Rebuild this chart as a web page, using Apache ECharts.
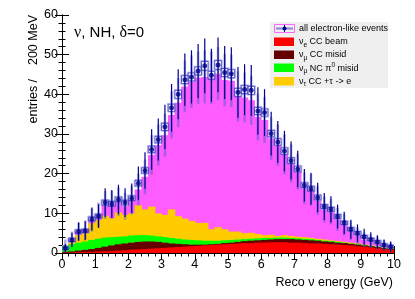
<!DOCTYPE html>
<html><head><meta charset="utf-8">
<script src="https://cdn.jsdelivr.net/npm/echarts@6/dist/echarts.min.js"></script>
<style>html,body{margin:0;padding:0;background:#fff}#c{width:415px;height:299px}</style>
</head><body><div id="c"></div>
<script>
// Bin centres (GeV), 200 MeV bins
const binCenters = [0.1,0.3,0.5,0.7,0.9,1.1,1.3,1.5,1.7,1.9, 2.1,2.3,2.5,2.7,2.9,3.1,3.3,3.5,3.7,3.9,
  4.1,4.3,4.5,4.7,4.9,5.1,5.3,5.5,5.7,5.9, 6.1,6.3,6.5,6.7,6.9,7.1,7.3,7.5,7.7,7.9,
  8.1,8.3,8.5,8.7,8.9,9.1,9.3,9.5,9.7,9.9];
const binHalfWidth = 0.1;
const xTicks = [0,1,2,3,4,5,6,7,8,9,10];
const yTicks = [0,10,20,30,40,50,60];

// Stacked components (bottom to top)
const nueCCBeam = [0.1,0.15,0.2,0.25,0.3,0.35,0.45,0.5,0.6,0.7, 0.8,0.9,1.0,1.1,1.2,1.3,1.4,1.5,1.6,1.7,
  1.8,1.9,2.0,2.1,2.2,2.3,2.4,2.5,2.5,2.6, 2.6,2.7,2.7,2.7,2.6,2.6,2.5,2.4,2.4,2.3,
  2.2,2.1,2.0,1.9,1.7,1.6,1.4,1.2,1.0,0.8];
const numuCCMisid = [0.2,0.25,0.4,0.55,0.7,0.95,1.15,1.4,1.6,1.7, 1.8,1.9,1.9,1.8,1.6,1.3,1.0,0.8,0.6,0.4,
  0.3,0.2,0.2,0.2,0.3,0.3,0.4,0.5,0.6,0.6, 0.7,0.7,0.8,0.8,0.9,0.8,0.8,0.8,0.7,0.6,
  0.6,0.5,0.5,0.4,0.4,0.3,0.3,0.3,0.2,0.2];
const numuNCpi0 = [1.5,1.8,2.0,2.1,2.3,2.3,2.3,2.1,1.9,1.8, 1.8,1.7,1.6,1.5,1.4,1.4,1.4,1.3,1.2,1.2,
  1.1,1.0,0.9,0.8,0.7,0.7,0.6,0.5,0.5,0.5, 0.5,0.4,0.4,0.4,0.3,0.3,0.3,0.3,0.2,0.2,
  0.2,0.2,0.1,0.1,0.1,0.1,0.1,0.1,0.1,0.1];
const nutauCC = [0.0,0.6,1.9,2.4,4.2,4.7,5.5,4.8,6.1,5.4, 5.6,7.5,6.5,7.3,5.8,5.6,7.2,5.7,5.3,4.8,
  4.4,4.5,2.9,3.4,2.8,2.1,2.0,1.5,1.5,1.1, 0.7,0.8,0.4,0.6,0.5,0.4,0.4,0.3,0.3,0.3,
  0.2,0.2,0.2,0.2,0.2,0.1,0.1,0.1,0.1,0.1];
const nueSignal = [0.2,0.7,0.9,0.5,0.8,1.3,2.7,3.3,2.7,2.2, 3.3,4.0,8.2,13.0,17.2,20.1,23.8,28.6,33.3,35.1,
  36.6,36.8,38.2,38.7,37.6,38.0,34.1,34.2,33.4,29.5, 29.0,24.3,22.9,20.4,18.3,16.4,12.3,12.1,9.6,7.6,
  7.2,5.5,4.3,3.0,1.9,1.3,1.1,0.8,0.5,0.3];
const mcErr = [1.4,1.9,2.3,2.4,2.9,3.1,3.5,3.5,3.6,3.4, 3.6,4.0,4.4,5.0,5.2,5.4,5.9,6.2,6.5,6.6,
  6.6,6.7,6.6,6.7,6.6,6.6,6.3,6.3,6.2,5.9, 5.8,5.4,5.2,5.0,4.8,4.5,4.0,4.0,3.6,3.3,
  3.2,2.9,2.7,2.4,2.1,1.8,1.7,1.6,1.4,1.2];

// all electron-like events (points)
const eventsData = [1.2,3.3,5.4,5.6,8.6,9.3,12.7,12.4,13.5,12.7, 13.8,17.6,20.8,26.1,28.6,31.8,36.6,40.0,43.7,44.4,
  45.9,47.2,44.8,47.4,45.5,45.2,40.5,41.2,41.0,35.8, 35.4,30.1,28.0,25.7,23.3,21.2,17.1,16.2,14.0,11.7,
  11.0,9.2,7.6,6.0,5.0,4.1,3.4,2.8,2.0,1.6];
const eventsErr = [1.1,1.8,2.3,2.4,2.9,3.0,3.6,3.5,3.7,3.6, 3.7,4.2,4.6,5.1,5.3,5.6,6.0,6.3,6.6,6.7,
  6.8,6.9,6.7,6.9,6.7,6.7,6.4,6.4,6.4,6.0, 5.9,5.5,5.3,5.1,4.8,4.6,4.1,4.0,3.7,3.4,
  3.3,3.0,2.8,2.4,2.2,2.0,1.8,1.7,1.4,1.3];
const eventsBox = [0.3,0.4,0.4,0.4,0.5,0.5,0.6,0.6,0.6,0.6, 0.6,0.7,0.7,0.8,0.8,0.9,0.9,1.0,1.0,1.0,
  1.0,1.1,1.0,1.1,1.0,1.0,1.0,1.0,1.0,0.9, 0.9,0.8,0.8,0.8,0.7,0.7,0.6,0.6,0.6,0.5,
  0.5,0.5,0.4,0.4,0.4,0.3,0.3,0.3,0.3,0.3];

const components = [
  {name:'nueCC', vals:nueCCBeam, color:'#ff0000'},
  {name:'numuCC', vals:numuCCMisid, color:'#640000'},
  {name:'numuNC', vals:numuNCpi0, color:'#00ff00'},
  {name:'nutau', vals:nutauCC, color:'#ffcc00'},
  {name:'signal', vals:nueSignal, color:'#ff5cff'}
];
// cumulative tops
const cum = [];
let run = binCenters.map(()=>0);
components.forEach(c => { run = run.map((r,i)=>r + c.vals[i]); cum.push(run.slice()); });
const mcTotal = cum[cum.length-1];

function stackSeries(k) {
  const comp = components[k];
  return {
    type:'custom', silent:true, clip:true, z:1,
    encode:{x:[0,1], y:[2,3]},
    data: binCenters.map((c,i)=>[c-binHalfWidth, c+binHalfWidth, 0, cum[k][i]]),
    renderItem:(params, api) => {
      const p0 = api.coord([api.value(0), api.value(2)]);
      const p1 = api.coord([api.value(1), api.value(3)]);
      if (p0[1]-p1[1] <= 0) return null;
      return {type:'rect', shape:{x:p0[0]-0.4, y:p1[1], width:p1[0]-p0[0]+0.8, height:p0[1]-p1[1]},
        style:{fill:comp.color}};
    }
  };
}
const series = [];
for (let k = components.length-1; k >= 0; k--) series.push(stackSeries(k));

function errSeries(centerVals, errs, color, width, z) {
  return {
    type:'custom', silent:true, clip:true, z:z,
    encode:{x:0, y:[1,2]},
    data: binCenters.map((c,i)=>[c, centerVals[i]-errs[i], centerVals[i]+errs[i]]),
    renderItem:(params, api) => {
      const a = api.coord([api.value(0), api.value(1)]);
      const b = api.coord([api.value(0), api.value(2)]);
      return {type:'line', shape:{x1:a[0], y1:a[1], x2:b[0], y2:b[1]}, style:{stroke:color, lineWidth:width}};
    }
  };
}
series.push(errSeries(mcTotal, mcErr, 'rgba(90,90,205,0.5)', 2.5, 2));
series.push({
  type:'custom', silent:true, clip:true, z:3,
  encode:{x:[0,1], y:[2,3]},
  data: binCenters.map((c,i)=>[c-binHalfWidth, c+binHalfWidth, eventsData[i]-eventsBox[i], eventsData[i]+eventsBox[i]]),
  renderItem:(params, api) => {
    const p0 = api.coord([api.value(0), api.value(2)]);
    const p1 = api.coord([api.value(1), api.value(3)]);
    const w = p1[0]-p0[0], h = p0[1]-p1[1];
    return {type:'group', children:[
      {type:'rect', shape:{x:p0[0]-0.8, y:p1[1]-0.8, width:w+1.6, height:h+1.6}, style:{fill:'none', stroke:'rgba(130,130,225,0.55)', lineWidth:1}},
      {type:'rect', shape:{x:p0[0], y:p1[1], width:w, height:h}, style:{fill:'rgba(255,255,255,0.3)', stroke:'rgba(40,40,180,0.85)', lineWidth:0.9}}
    ]};
  }
});
series.push(errSeries(eventsData, eventsErr, '#00008f', 1.2, 4));
series.push({
  type:'scatter', silent:true, z:5, symbol:'circle', symbolSize:5,
  itemStyle:{color:'#00008b'},
  data: binCenters.map((c,i)=>[c, eventsData[i]])
});

const tickCommon = {show:true, inside:true, length:7, lineStyle:{color:'#000', width:1}};
const minorCommon = {show:true, splitNumber:5, length:3.5, lineStyle:{color:'#000', width:1}};
const labelStyle = {color:'#000', fontSize:12.5, fontFamily:'Liberation Sans'};

const option = {
  animation:false,
  grid:{left:62, right:21, top:15, bottom:46, containLabel:false},
  xAxis:[
    {type:'value', min:xTicks[0], max:xTicks[xTicks.length-1], interval:1, position:'bottom',
     axisLine:{lineStyle:{color:'#000', width:1}}, axisTick:tickCommon, minorTick:minorCommon,
     splitLine:{show:false}, axisLabel:Object.assign({margin:5}, labelStyle)},
    {type:'value', min:xTicks[0], max:xTicks[xTicks.length-1], interval:1, position:'top',
     axisLine:{lineStyle:{color:'#000', width:1}}, axisTick:tickCommon, minorTick:minorCommon,
     splitLine:{show:false}, axisLabel:{show:false}}
  ],
  yAxis:[
    {type:'value', min:yTicks[0], max:yTicks[yTicks.length-1], interval:10, position:'left',
     axisLine:{show:true, lineStyle:{color:'#000', width:1}}, axisTick:tickCommon, minorTick:minorCommon,
     splitLine:{show:false}, axisLabel:Object.assign({margin:4}, labelStyle)},
    {type:'value', min:yTicks[0], max:yTicks[yTicks.length-1], interval:10, position:'right',
     axisLine:{show:true, lineStyle:{color:'#000', width:1}}, axisTick:tickCommon, minorTick:minorCommon,
     splitLine:{show:false}, axisLabel:{show:false}}
  ],
  series: series,
  graphic:[
    {type:'text', x:393, y:283, style:{text:'Reco ν energy (GeV)', fill:'#000', fontSize:12.5, fontFamily:'Liberation Sans', align:'right', verticalAlign:'middle'}},
    {type:'text', x:34, y:15, rotation:Math.PI/2, style:{text:'entries /    200 MeV', fill:'#000', fontSize:12.5, fontFamily:'Liberation Sans', align:'right', verticalAlign:'middle'}},
    {type:'text', x:74, y:33, z:10, style:{text:'{g|ν}, NH, {g|δ}=0', fill:'#000', fontSize:15, fontFamily:'Liberation Sans', verticalAlign:'middle',
      rich:{g:{fontFamily:'Liberation Serif', fontSize:16, fill:'#000'}}}},
    // legend
    {type:'group', z:20, children:[
      {type:'rect', shape:{x:270, y:22, width:118, height:66}, style:{fill:'#efefef'}},
      {type:'rect', shape:{x:274.5, y:24.5, width:20, height:8}, style:{fill:'none', stroke:'#ff66ff', lineWidth:1}},
      {type:'line', shape:{x1:276, y1:28.5, x2:293, y2:28.5}, style:{stroke:'rgba(90,90,210,0.7)', lineWidth:2}},
      {type:'line', shape:{x1:284.5, y1:25, x2:284.5, y2:32}, style:{stroke:'#00008f', lineWidth:1}},
      {type:'circle', shape:{cx:284.5, cy:28.5, r:2}, style:{fill:'#00008b'}},
      {type:'rect', shape:{x:274, y:37.5, width:20, height:8.5}, style:{fill:'#ff0000'}},
      {type:'rect', shape:{x:274, y:50.5, width:20, height:8.5}, style:{fill:'#640000'}},
      {type:'rect', shape:{x:274, y:63.5, width:20, height:8.5}, style:{fill:'#00ff00'}},
      {type:'rect', shape:{x:274, y:77, width:20, height:8.5}, style:{fill:'#ffcc00'}},
      {type:'text', x:299, y:28.5, style:{text:'all electron-like events', fill:'#000', fontSize:9, fontFamily:'Liberation Sans', verticalAlign:'middle'}},
      {type:'text', x:299, y:41.8, style:{text:'ν{sub|e} CC beam', fill:'#000', fontSize:9, fontFamily:'Liberation Sans', verticalAlign:'middle',
        rich:{sub:{fontSize:6.5, fontFamily:'Liberation Sans', fill:'#000', padding:[6,0,0,0]}}}},
      {type:'text', x:299, y:55, style:{text:'ν{sub|μ} CC misid', fill:'#000', fontSize:9, fontFamily:'Liberation Sans', verticalAlign:'middle',
        rich:{sub:{fontSize:6.5, fontFamily:'Liberation Sans', fill:'#000', padding:[6,0,0,0]}}}},
      {type:'text', x:299, y:68.2, style:{text:'ν{sub|μ} NC π{sup|0} misid', fill:'#000', fontSize:9, fontFamily:'Liberation Sans', verticalAlign:'middle',
        rich:{sub:{fontSize:6.5, fontFamily:'Liberation Sans', fill:'#000', padding:[6,0,0,0]},
              sup:{fontSize:6.5, fontFamily:'Liberation Sans', fill:'#000', padding:[0,0,6,0]}}}},
      {type:'text', x:299, y:81.5, style:{text:'ν{sub|τ} CC +τ -> e', fill:'#000', fontSize:9, fontFamily:'Liberation Sans', verticalAlign:'middle',
        rich:{sub:{fontSize:6.5, fontFamily:'Liberation Sans', fill:'#000', padding:[6,0,0,0]}}}}
    ]}
  ]
};
const chart = echarts.init(document.getElementById('c'), null, {renderer:'canvas'});
chart.setOption(option);
</script>
</body></html>
